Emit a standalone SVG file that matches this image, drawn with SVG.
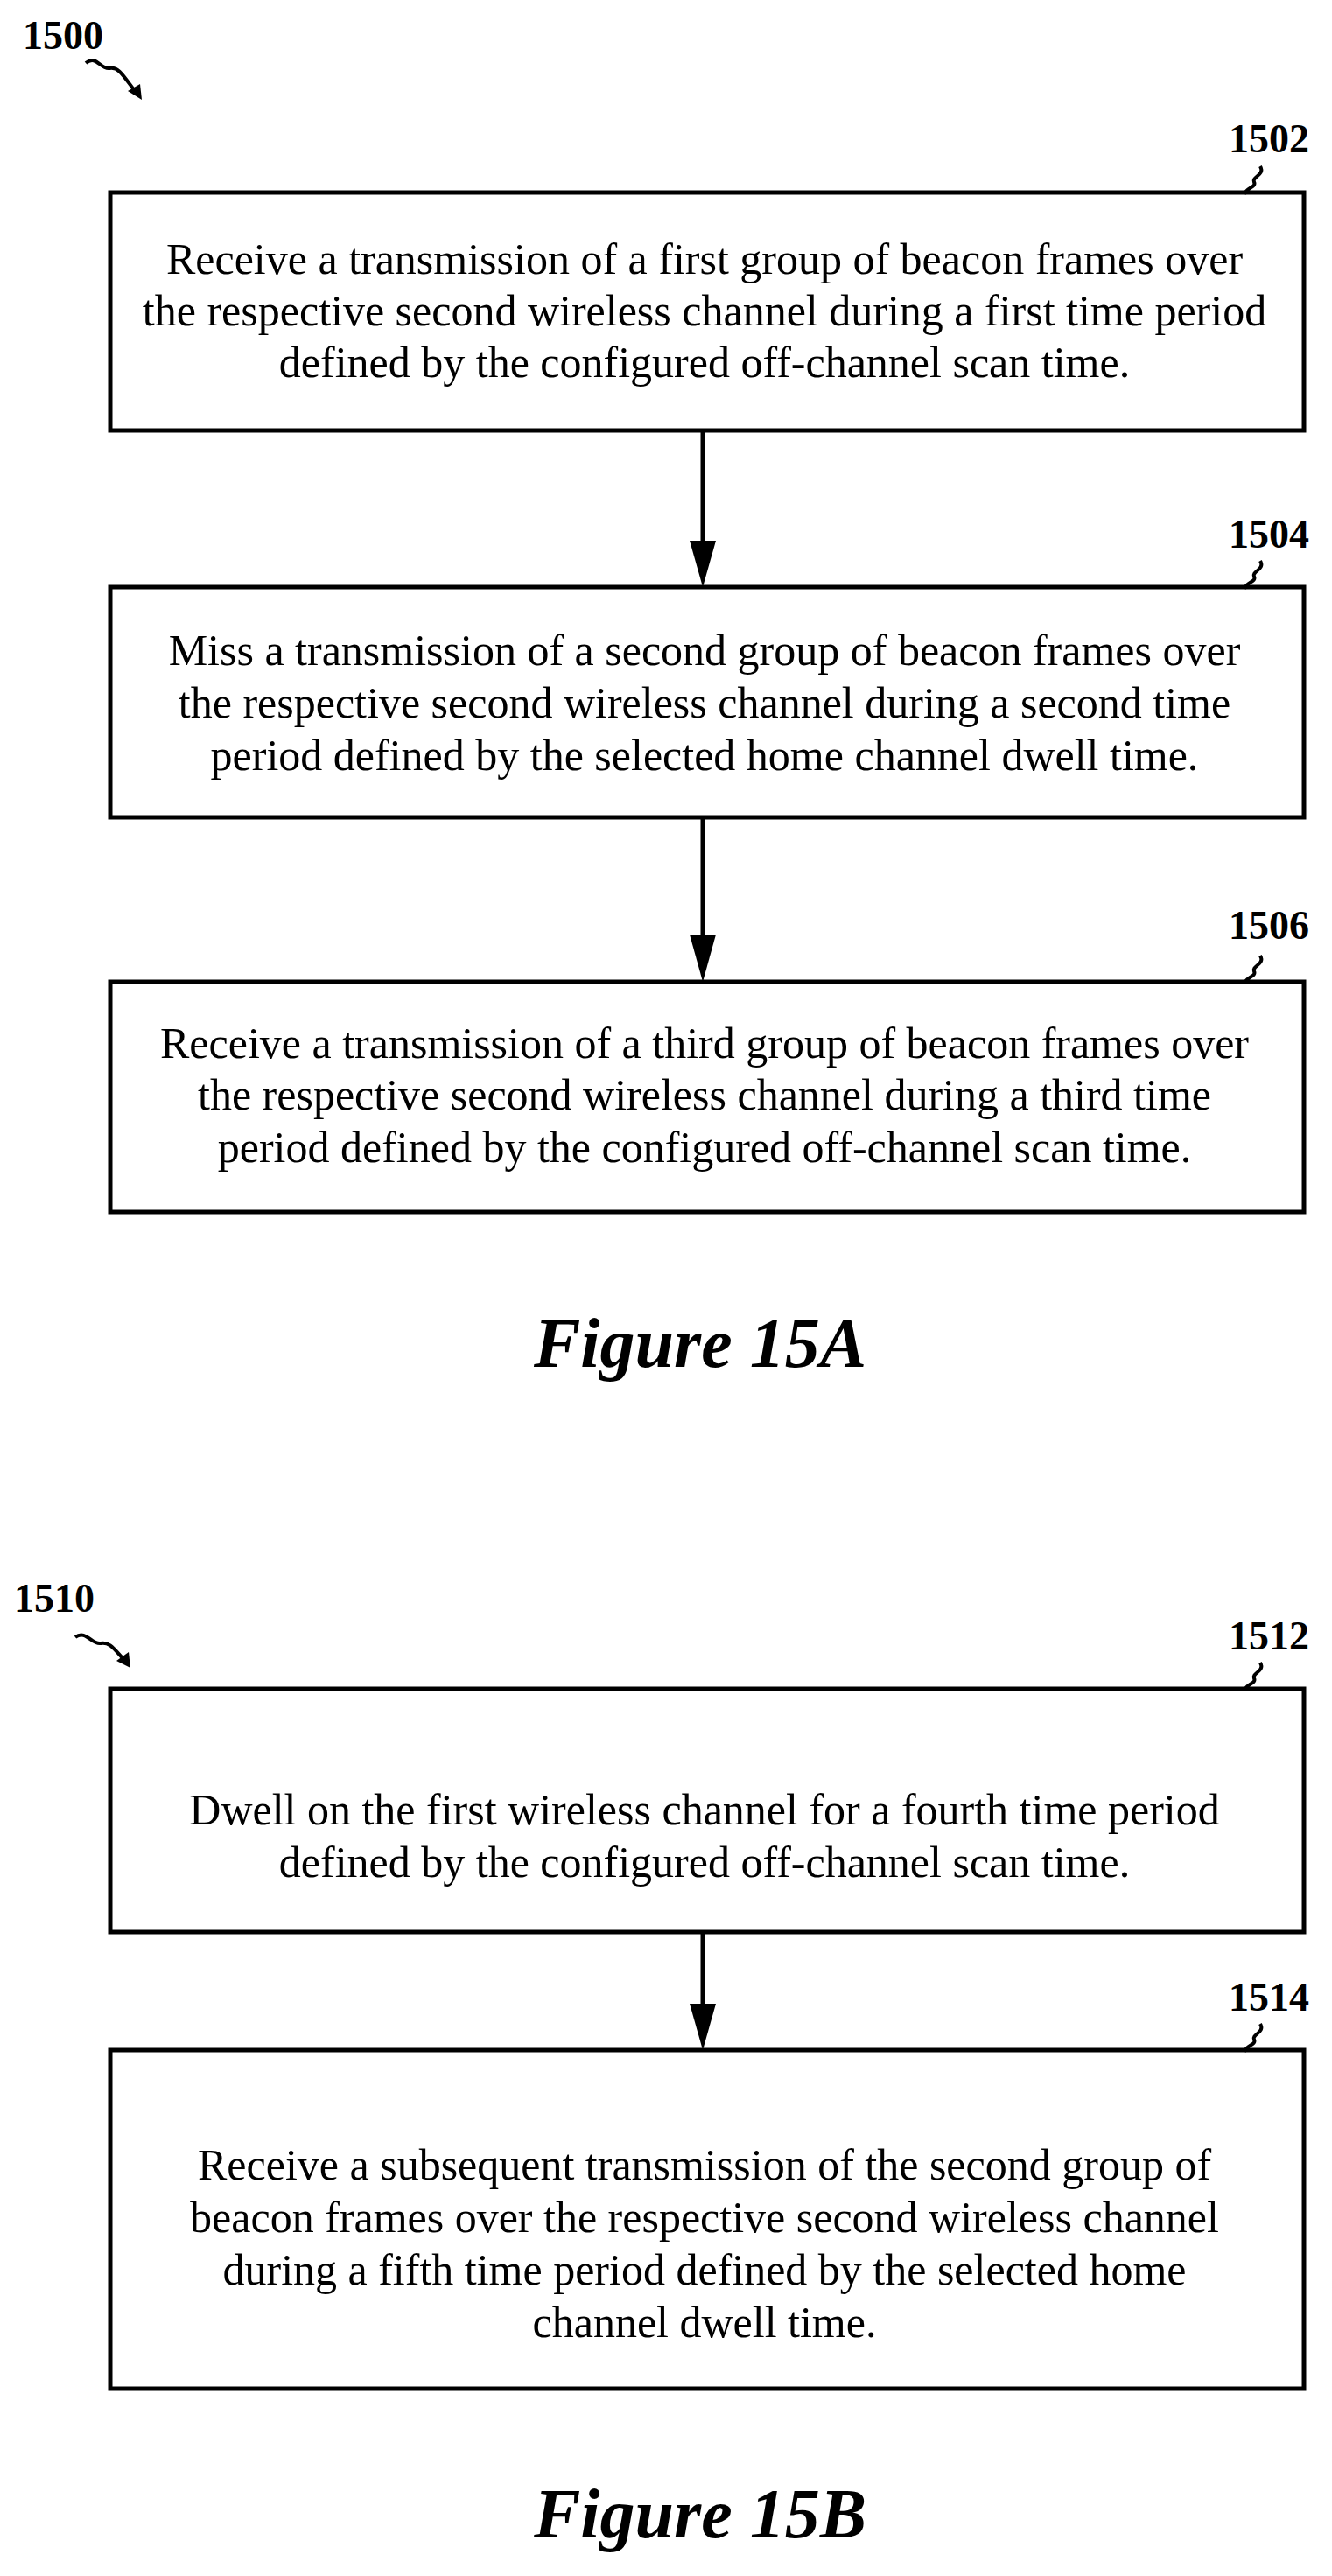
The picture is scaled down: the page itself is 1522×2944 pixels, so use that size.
<svg xmlns="http://www.w3.org/2000/svg" width="1522" height="2944" viewBox="0 0 1522 2944">
<style>
.box{fill:#fff;stroke:#000;stroke-width:5}
.t{font-family:"Liberation Serif",serif;font-size:50px;text-anchor:middle}
.lb{font-family:"Liberation Serif",serif;font-size:46px;font-weight:bold}
.fig{font-family:"Liberation Serif",serif;font-size:80px;font-weight:bold;font-style:italic;text-anchor:middle}
.sq{fill:none;stroke:#000;stroke-width:4}
.c{stroke:#000;stroke-width:5;fill:none}
</style>
<g id="ref1500"><text class="lb" x="26" y="56">1500</text><path class="sq" d="M98,72 C110,62 115,80 125,78 C135,76 140,85 154,104"/><path d="M146,104 L162,114 L160,96 Z"/></g>
<g id="n1502"><rect class="box" x="126" y="220" width="1364" height="272"/>
<text class="t" x="805" y="313">Receive a transmission of a first group of beacon frames over</text>
<text class="t" x="805" y="372">the respective second wireless channel during a first time period</text>
<text class="t" x="805" y="431">defined by the configured off-channel scan time.</text>
<text class="lb" x="1404" y="174">1502</text><path class="sq" d="M1440,190 C1446,200 1430,202 1433,208 C1436,214 1424,214 1422,222"/></g>
<g id="n1504"><rect class="box" x="126" y="671" width="1364" height="263"/>
<text class="t" x="805" y="760">Miss a transmission of a second group of beacon frames over</text>
<text class="t" x="805" y="820">the respective second wireless channel during a second time</text>
<text class="t" x="805" y="880">period defined by the selected home channel dwell time.</text>
<text class="lb" x="1404" y="626">1504</text><path class="sq" d="M1440,641 C1446,651 1430,653 1433,659 C1436,665 1424,665 1422,673"/></g>
<g id="n1506"><rect class="box" x="126" y="1122" width="1364" height="263"/>
<text class="t" x="805" y="1209">Receive a transmission of a third group of beacon frames over</text>
<text class="t" x="805" y="1268">the respective second wireless channel during a third time</text>
<text class="t" x="805" y="1328">period defined by the configured off-channel scan time.</text>
<text class="lb" x="1404" y="1073">1506</text><path class="sq" d="M1440,1092 C1446,1102 1430,1104 1433,1110 C1436,1116 1424,1116 1422,1124"/></g>
<text class="fig" x="800" y="1562">Figure 15A</text>
<g id="ref1510"><text class="lb" x="16" y="1842">1510</text><path class="sq" d="M86,1871 C98,1862 105,1880 115,1878 C125,1876 130,1884 141,1896"/><path d="M133,1898 L149,1906 L147,1888 Z"/></g>
<g id="n1512"><rect class="box" x="126" y="1930" width="1364" height="278"/>
<text class="t" x="805" y="2085">Dwell on the first wireless channel for a fourth time period</text>
<text class="t" x="805" y="2145">defined by the configured off-channel scan time.</text>
<text class="lb" x="1404" y="1885">1512</text><path class="sq" d="M1440,1900 C1446,1910 1430,1912 1433,1918 C1436,1924 1424,1924 1422,1932"/></g>
<g id="n1514"><rect class="box" x="126" y="2343" width="1364" height="387"/>
<text class="t" x="805" y="2491">Receive a subsequent transmission of the second group of</text>
<text class="t" x="805" y="2551">beacon frames over the respective second wireless channel</text>
<text class="t" x="805" y="2611">during a fifth time period defined by the selected home</text>
<text class="t" x="805" y="2671">channel dwell time.</text>
<text class="lb" x="1404" y="2298">1514</text><path class="sq" d="M1440,2313 C1446,2323 1430,2325 1433,2331 C1436,2337 1424,2337 1422,2345"/></g>
<text class="fig" x="800" y="2900">Figure 15B</text>
<g id="connectors">
<line class="c" x1="803" y1="492" x2="803" y2="620"/><path d="M788,618 L818,618 L803,671 Z"/>
<line class="c" x1="803" y1="934" x2="803" y2="1070"/><path d="M788,1068 L818,1068 L803,1122 Z"/>
<line class="c" x1="803" y1="2208" x2="803" y2="2292"/><path d="M788,2290 L818,2290 L803,2343 Z"/>
</g>
</svg>
